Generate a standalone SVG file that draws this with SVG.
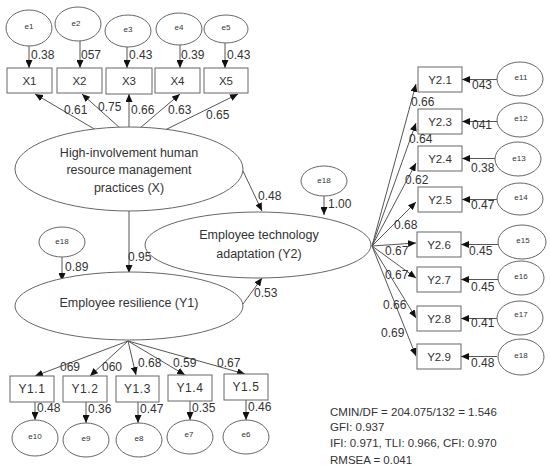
<svg xmlns="http://www.w3.org/2000/svg" width="550" height="473" viewBox="0 0 550 473">
<defs>
<marker id="ah" markerUnits="userSpaceOnUse" markerWidth="8" markerHeight="7" refX="8" refY="3.5" orient="auto">
<path d="M0,0 L8,3.5 L0,7 z" fill="#111"/>
</marker>
<style>
.ln{stroke:#555;stroke-width:1;fill:none;marker-end:url(#ah)}
.bx{fill:#fff;stroke:#666;stroke-width:1}
.el{fill:#fff;stroke:#666;stroke-width:1}
text{font-family:"Liberation Sans",Arial,sans-serif;fill:#333}
.lb{font-size:12px}
.bt{font-size:11.5px;text-anchor:middle}
.yt{font-size:12px;text-anchor:middle;letter-spacing:0.6px}
.et{font-size:8px;text-anchor:middle}
.lt{font-size:12.5px;text-anchor:middle}
.st{font-size:11.5px}
</style>
</defs>
<rect width="550" height="473" fill="#fff"/>

<g id="connectors">
<line class="ln" x1="29" y1="46" x2="29" y2="68"/>
<line class="ln" x1="80" y1="41" x2="80" y2="68"/>
<line class="ln" x1="127" y1="47" x2="127" y2="68"/>
<line class="ln" x1="180" y1="45" x2="180" y2="68"/>
<line class="ln" x1="225" y1="43" x2="225" y2="68"/>
<line class="ln" x1="96" y1="130" x2="35" y2="94"/>
<line class="ln" x1="120" y1="128" x2="82" y2="94"/>
<line class="ln" x1="129" y1="127" x2="129" y2="94"/>
<line class="ln" x1="140" y1="128" x2="180" y2="94"/>
<line class="ln" x1="165" y1="130" x2="238" y2="94"/>
<line class="ln" x1="129" y1="211" x2="129" y2="273"/>
<line class="ln" x1="62" y1="257" x2="62" y2="281"/>
<line class="ln" x1="243" y1="171" x2="262" y2="211"/>
<line class="ln" x1="243" y1="304" x2="262" y2="278"/>
<line class="ln" x1="324" y1="196" x2="324" y2="215"/>
<line class="ln" x1="372" y1="246" x2="416" y2="84"/>
<line class="ln" x1="372" y1="246" x2="416" y2="123"/>
<line class="ln" x1="372" y1="246" x2="416" y2="163"/>
<line class="ln" x1="372" y1="246" x2="416" y2="202"/>
<line class="ln" x1="372" y1="246" x2="416" y2="243"/>
<line class="ln" x1="372" y1="246" x2="416" y2="278"/>
<line class="ln" x1="372" y1="246" x2="416" y2="318"/>
<line class="ln" x1="372" y1="246" x2="416" y2="356"/>
<line class="ln" x1="497" y1="79.5" x2="462" y2="79.5"/>
<line class="ln" x1="497" y1="121.5" x2="462" y2="121.5"/>
<line class="ln" x1="495" y1="158.5" x2="462" y2="158.5"/>
<line class="ln" x1="497" y1="199.5" x2="462" y2="199.5"/>
<line class="ln" x1="498" y1="244.5" x2="461" y2="244.5"/>
<line class="ln" x1="498" y1="279.5" x2="461" y2="279.5"/>
<line class="ln" x1="497" y1="318.5" x2="461" y2="318.5"/>
<line class="ln" x1="497" y1="356.5" x2="461" y2="356.5"/>
<line class="ln" x1="128" y1="341" x2="35" y2="376"/>
<line class="ln" x1="128" y1="341" x2="90" y2="376"/>
<line class="ln" x1="128" y1="341" x2="136" y2="375"/>
<line class="ln" x1="128" y1="341" x2="185" y2="375"/>
<line class="ln" x1="128" y1="341" x2="245" y2="374"/>
<line class="ln" x1="35" y1="402" x2="35" y2="420"/>
<line class="ln" x1="86" y1="402" x2="86" y2="423"/>
<line class="ln" x1="138" y1="402" x2="138" y2="423"/>
<line class="ln" x1="190" y1="401" x2="190" y2="420"/>
<line class="ln" x1="246" y1="400" x2="246" y2="420"/>
</g>

<g id="X"><ellipse class="el" cx="129" cy="169" rx="114" ry="42"/>
<text class="lt" x="129" y="157">High-involvement human</text>
<text class="lt" x="129" y="174">resource management</text>
<text class="lt" x="129" y="192">practices (X)</text></g>
<g id="Y1"><ellipse class="el" cx="129" cy="306" rx="114" ry="34"/>
<text class="lt" x="129" y="307">Employee resilience (Y1)</text></g>
<g id="Y2"><ellipse class="el" cx="258" cy="245" rx="113" ry="33"/>
<text class="lt" x="259" y="239">Employee technology</text>
<text class="lt" x="259" y="258">adaptation (Y2)</text></g>

<g id="e18a"><ellipse class="el" cx="62" cy="242" rx="23" ry="15"/><text class="et" x="62" y="244">e18</text></g>
<g id="e18b"><ellipse class="el" cx="324" cy="181" rx="23" ry="15"/><text class="et" x="324" y="183">e18</text></g>

<g id="e1"><ellipse class="el" cx="29" cy="28" rx="23" ry="18"/><text class="et" x="29" y="29">e1</text></g>
<g id="e2"><ellipse class="el" cx="78" cy="24" rx="23" ry="17"/><text class="et" x="76" y="26">e2</text></g>
<g id="e3"><ellipse class="el" cx="128" cy="31" rx="23" ry="16"/><text class="et" x="128" y="32">e3</text></g>
<g id="e4"><ellipse class="el" cx="179" cy="29" rx="23" ry="16"/><text class="et" x="179" y="30">e4</text></g>
<g id="e5"><ellipse class="el" cx="226" cy="29" rx="22" ry="14"/><text class="et" x="226" y="30">e5</text></g>
<g id="X1"><rect class="bx" x="7" y="68" width="45" height="25"/><text class="bt" x="29.5" y="85">X1</text></g>
<g id="X2"><rect class="bx" x="57" y="68" width="45" height="25"/><text class="bt" x="79.5" y="85">X2</text></g>
<g id="X3"><rect class="bx" x="106" y="68" width="46" height="26"/><text class="bt" x="129" y="85">X3</text></g>
<g id="X4"><rect class="bx" x="155" y="68" width="45" height="25"/><text class="bt" x="177.5" y="85">X4</text></g>
<g id="X5"><rect class="bx" x="204" y="68" width="44" height="25"/><text class="bt" x="226" y="85">X5</text></g>

<g id="Y2_1"><rect class="bx" x="418" y="67" width="44" height="25"/><text class="bt" x="440" y="84">Y2.1</text></g>
<g id="Y2_3"><rect class="bx" x="418" y="109" width="44" height="25"/><text class="bt" x="440" y="126">Y2.3</text></g>
<g id="Y2_4"><rect class="bx" x="418" y="146" width="44" height="25"/><text class="bt" x="440" y="163">Y2.4</text></g>
<g id="Y2_5"><rect class="bx" x="418" y="187" width="44" height="25"/><text class="bt" x="440" y="204">Y2.5</text></g>
<g id="Y2_6"><rect class="bx" x="417" y="232" width="44" height="25"/><text class="bt" x="439" y="249">Y2.6</text></g>
<g id="Y2_7"><rect class="bx" x="417" y="267" width="44" height="25"/><text class="bt" x="439" y="284">Y2.7</text></g>
<g id="Y2_8"><rect class="bx" x="417" y="306" width="44" height="25"/><text class="bt" x="439" y="323">Y2.8</text></g>
<g id="Y2_9"><rect class="bx" x="417" y="344" width="44" height="25"/><text class="bt" x="439" y="361">Y2.9</text></g>
<g id="e11"><ellipse class="el" cx="520" cy="79" rx="23" ry="17"/><text class="et" x="521" y="80">e11</text></g>
<g id="e12"><ellipse class="el" cx="520" cy="120" rx="23" ry="17"/><text class="et" x="521" y="121">e12</text></g>
<g id="e13"><ellipse class="el" cx="518" cy="159" rx="23" ry="17"/><text class="et" x="519" y="161">e13</text></g>
<g id="e14"><ellipse class="el" cx="520" cy="199" rx="23" ry="16"/><text class="et" x="521" y="200">e14</text></g>
<g id="e15"><ellipse class="el" cx="522" cy="242" rx="24" ry="17"/><text class="et" x="523" y="243">e15</text></g>
<g id="e16"><ellipse class="el" cx="521" cy="278" rx="23" ry="17"/><text class="et" x="521" y="279">e16</text></g>
<g id="e17"><ellipse class="el" cx="520" cy="318" rx="23" ry="17"/><text class="et" x="521" y="317">e17</text></g>
<g id="e18c"><ellipse class="el" cx="521" cy="357" rx="23" ry="18"/><text class="et" x="521" y="358">e18</text></g>

<g id="Y1_1"><rect class="bx" x="10" y="376" width="44" height="26"/><text class="yt" x="32" y="393">Y1.1</text></g>
<g id="Y1_2"><rect class="bx" x="63" y="376" width="44" height="26"/><text class="yt" x="85" y="393">Y1.2</text></g>
<g id="Y1_3"><rect class="bx" x="116" y="376" width="43" height="26"/><text class="yt" x="137.5" y="393">Y1.3</text></g>
<g id="Y1_4"><rect class="bx" x="168" y="375" width="44" height="26"/><text class="yt" x="190" y="392">Y1.4</text></g>
<g id="Y1_5"><rect class="bx" x="224" y="374" width="44" height="26"/><text class="yt" x="246" y="391">Y1.5</text></g>
<g id="e10"><ellipse class="el" cx="35" cy="438" rx="23" ry="18"/><text class="et" x="35" y="439">e10</text></g>
<g id="e9"><ellipse class="el" cx="86" cy="440" rx="23" ry="17"/><text class="et" x="86" y="441">e9</text></g>
<g id="e8"><ellipse class="el" cx="139" cy="440" rx="23" ry="17"/><text class="et" x="139" y="441">e8</text></g>
<g id="e7"><ellipse class="el" cx="190" cy="437" rx="23" ry="17"/><text class="et" x="189" y="437">e7</text></g>
<g id="e6"><ellipse class="el" cx="246" cy="437" rx="23" ry="17"/><text class="et" x="246" y="437">e6</text></g>

<g id="path-labels">
<text class="lb" x="31" y="59">0.38</text>
<text class="lb" x="81" y="59">057</text>
<text class="lb" x="129" y="59">0.43</text>
<text class="lb" x="181" y="59">0.39</text>
<text class="lb" x="227" y="59">0.43</text>
<text class="lb" x="64" y="114">0.61</text>
<text class="lb" x="98" y="111">0.75</text>
<text class="lb" x="131" y="114">0.66</text>
<text class="lb" x="168" y="114">0.63</text>
<text class="lb" x="206" y="119">0.65</text>
<text class="lb" x="258" y="200">0.48</text>
<text class="lb" x="128" y="261">0.95</text>
<text class="lb" x="65" y="271">0.89</text>
<text class="lb" x="254" y="297">0.53</text>
<text class="lb" x="328" y="208">1.00</text>
<text class="lb" x="411" y="106">0.66</text>
<text class="lb" x="409" y="143">0.64</text>
<text class="lb" x="405" y="184">0.62</text>
<text class="lb" x="394" y="229">0.68</text>
<text class="lb" x="385" y="255">0.67</text>
<text class="lb" x="385" y="279">0.67</text>
<text class="lb" x="383" y="309">0.66</text>
<text class="lb" x="381" y="337">0.69</text>
<text class="lb" x="472" y="89">043</text>
<text class="lb" x="472" y="129">041</text>
<text class="lb" x="471" y="172">0.38</text>
<text class="lb" x="471" y="209">0.47</text>
<text class="lb" x="469" y="255">0.45</text>
<text class="lb" x="471" y="291">0.45</text>
<text class="lb" x="471" y="327">0.41</text>
<text class="lb" x="471" y="367">0.48</text>
<text class="lb" x="60" y="371">069</text>
<text class="lb" x="102" y="371">060</text>
<text class="lb" x="138" y="367">0.68</text>
<text class="lb" x="173" y="367">0.59</text>
<text class="lb" x="217" y="367">0.67</text>
<text class="lb" x="37" y="412">0.48</text>
<text class="lb" x="88" y="413">0.36</text>
<text class="lb" x="140" y="413">0.47</text>
<text class="lb" x="192" y="412">0.35</text>
<text class="lb" x="248" y="411">0.46</text>
</g>

<g id="fit">
<text class="st" x="330" y="416">CMIN/DF = 204.075/132 = 1.546</text>
<text class="st" x="330" y="431">GFI: 0.937</text>
<text class="st" x="330" y="447">IFI: 0.971, TLI: 0.966, CFI: 0.970</text>
<text class="st" x="330" y="464">RMSEA = 0.041</text>
</g>
</svg>
